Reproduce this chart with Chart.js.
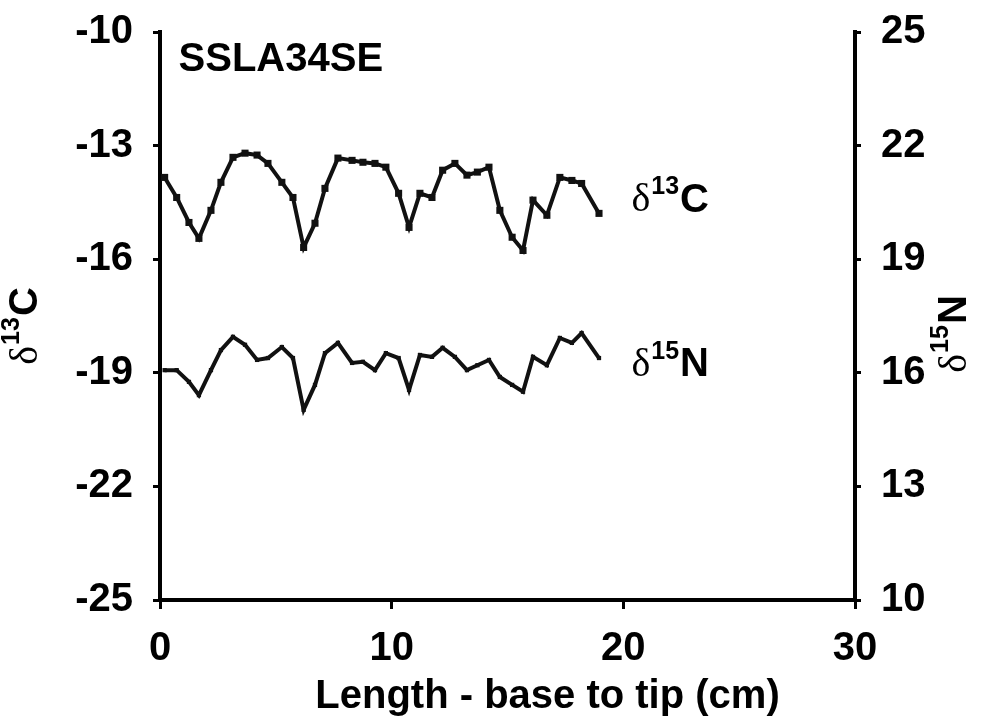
<!DOCTYPE html>
<html>
<head>
<meta charset="utf-8">
<script src="https://cdn.jsdelivr.net/npm/chart.js@4.4.0/dist/chart.umd.min.js"></script>
<style>
  html, body { margin: 0; padding: 0; background: #fff; }
  #wrap { width: 981px; height: 725px; position: relative; }
</style>
</head>
<body>
<div id="wrap"><canvas id="chart"></canvas></div>
<script>
// length along hair, base to tip (cm)
const lengthCm = [0.2, 0.72, 1.25, 1.68, 2.2, 2.63, 3.15, 3.67, 4.19, 4.66, 5.26, 5.74, 6.2, 6.69, 7.12, 7.68, 8.29, 8.76, 9.28, 9.75,
  10.3, 10.75, 11.22, 11.74, 12.2, 12.73, 13.25, 13.7, 14.2, 14.67, 15.2, 15.67, 16.1, 16.7, 17.26, 17.78, 18.2, 18.95];
const d13C = [-13.84, -14.37, -15.03, -15.45, -14.71, -13.97, -13.31, -13.2, -13.25, -13.47, -13.97, -14.37, -15.69, -15.05, -14.13, -13.33, -13.39, -13.44, -13.47, -13.57,
  -14.26, -15.16, -14.26, -14.37, -13.65, -13.47, -13.78, -13.7, -13.57, -14.71, -15.42, -15.77, -14.44, -14.84, -13.84, -13.92, -14.0, -14.79];
const d15N = [16.07, 16.07, 15.76, 15.41, 16.07, 16.6, 16.95, 16.74, 16.34, 16.39, 16.68, 16.39, 15.02, 15.68, 16.52, 16.79, 16.26, 16.29, 16.07, 16.52,
  16.39, 15.55, 16.47, 16.42, 16.66, 16.42, 16.07, 16.2, 16.34, 15.89, 15.68, 15.5, 16.42, 16.2, 16.92, 16.79, 17.05, 16.39];

const sampleName = 'SSLA34SE';
const xTickStep = 10;
const yTickStep = 3;

const FONT_SANS = 'Liberation Sans, Arial, sans-serif';
const FONT_SERIF = 'Liberation Serif, Times New Roman, serif';
const tickFont = { family: FONT_SANS, size: 40, weight: 'bold' };

// draws "δ" + superscript + element, optionally rotated
function drawDelta(ctx, x, y, sup, elem, size, rot) {
  const parts = [
    { t: 'δ', font: `${size}px ${FONT_SERIF}`, dy: 0 },
    { t: sup, font: `bold ${Math.round(size * 0.62)}px ${FONT_SANS}`, dy: -size * 0.34 },
    { t: elem, font: `bold ${size}px ${FONT_SANS}`, dy: 0 }
  ];
  ctx.save();
  ctx.translate(x, y);
  if (rot) ctx.rotate(rot);
  let total = 0;
  parts.forEach(p => { ctx.font = p.font; total += ctx.measureText(p.t).width; });
  let cx = rot ? -total / 2 : 0;
  ctx.fillStyle = '#000';
  ctx.textBaseline = 'middle';
  ctx.textAlign = 'left';
  parts.forEach(p => {
    ctx.font = p.font;
    ctx.fillText(p.t, cx, p.dy);
    cx += ctx.measureText(p.t).width + 1;
  });
  ctx.restore();
}

const textPlugin = {
  id: 'texts',
  afterDraw(chart) {
    const { ctx, scales } = chart;
    const xs = scales.x, yl = scales.y, yr = scales.y2;
    // sample name
    ctx.save();
    ctx.font = `bold 40px ${FONT_SANS}`;
    ctx.fillStyle = '#000';
    ctx.textBaseline = 'middle';
    ctx.fillText(sampleName, xs.getPixelForValue(0.8), yl.getPixelForValue(-10.75));
    // x axis title
    ctx.textAlign = 'center';
    ctx.font = `bold 40px ${FONT_SANS}`;
    ctx.fillText('Length - base to tip (cm)', (xs.left + xs.right) / 2 + 40, 697);
    ctx.restore();
    // series labels
    drawDelta(ctx, xs.getPixelForValue(20.35), yl.getPixelForValue(-14.45), '13', 'C', 40, 0);
    drawDelta(ctx, xs.getPixelForValue(20.35), yr.getPixelForValue(16.2), '15', 'N', 40, 0);
    // axis titles
    drawDelta(ctx, 26, 327, '13', 'C', 40, -Math.PI / 2);
    drawDelta(ctx, 955, 335, '15', 'N', 40, -Math.PI / 2);
  }
};

function fixY(width) {
  return s => { s.width = width; s.paddingTop = 0; s.paddingBottom = 0; };
}

const ctx = document.getElementById('chart').getContext('2d');
new Chart(ctx, {
  type: 'line',
  data: {
    datasets: [{
      label: 'δ13C',
      data: lengthCm.map((x, i) => ({ x: x, y: d13C[i] })),
      yAxisID: 'y',
      borderColor: '#111',
      backgroundColor: '#111',
      borderWidth: 4,
      pointStyle: 'rect',
      pointRadius: 5,
      pointBorderWidth: 0,
      tension: 0
    }, {
      label: 'δ15N',
      data: lengthCm.map((x, i) => ({ x: x, y: d15N[i] })),
      yAxisID: 'y2',
      borderColor: '#111',
      backgroundColor: '#111',
      borderWidth: 4,
      pointStyle: 'rect',
      pointRadius: 3,
      pointBorderWidth: 0,
      tension: 0
    }]
  },
  options: {
    responsive: true,
    maintainAspectRatio: false,
    animation: false,
    layout: { padding: { top: 32, left: 0, right: 0, bottom: 0 } },
    plugins: { legend: { display: false }, tooltip: { enabled: false } },
    scales: {
      x: {
        type: 'linear',
        min: 0, max: 30,
        afterFit: s => { s.height = 125; s.paddingLeft = 0; s.paddingRight = 0; },
        border: { display: true, color: '#000', width: 4 },
        grid: { drawOnChartArea: false, drawTicks: true, tickLength: 9, color: '#000', lineWidth: 3 },
        ticks: { stepSize: xTickStep, color: '#000', font: tickFont, padding: 16, maxRotation: 0 }
      },
      y: {
        type: 'linear',
        position: 'left',
        min: -25, max: -10,
        afterFit: fixY(160),
        border: { display: true, color: '#000', width: 4 },
        grid: { drawOnChartArea: false, drawTicks: true, tickLength: 7, color: '#000', lineWidth: 3 },
        ticks: { stepSize: yTickStep, color: '#000', font: tickFont, padding: 20 }
      },
      y2: {
        type: 'linear',
        position: 'right',
        min: 10, max: 25,
        afterFit: fixY(126),
        border: { display: true, color: '#000', width: 4 },
        grid: { drawOnChartArea: false, drawTicks: true, tickLength: 6, color: '#000', lineWidth: 3 },
        ticks: { stepSize: yTickStep, color: '#000', font: tickFont, padding: 20 }
      }
    }
  },
  plugins: [textPlugin]
});
</script>
</body>
</html>
